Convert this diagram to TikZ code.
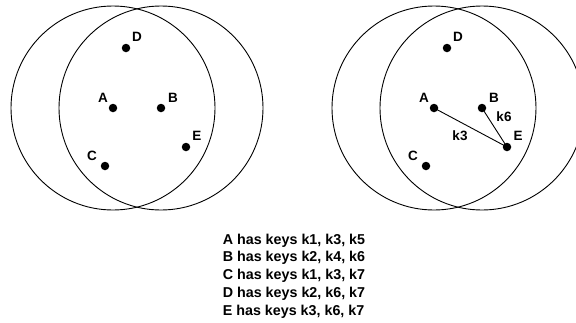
\documentclass[tikz,border=0pt]{standalone}
\usepackage{fontspec}
\setmainfont{Liberation Sans}
\begin{document}
\begin{tikzpicture}[x=1pt,y=-1pt,
  ring/.style={draw=black, line width=0.9pt},
  dot/.style={circle, fill=black, inner sep=0pt, minimum size=8.5pt},
  lbl/.style={font=\fontsize{13.5}{16}\selectfont\bfseries, inner sep=0pt},
  link/.style={draw=black, line width=0.9pt},
  keys/.style={font=\fontsize{14.3}{17.8}\selectfont\bfseries, align=left, inner sep=0pt}]
\useasboundingbox (0,0) rectangle (576,322);
\clip (0,0) rectangle (576,322);
% left panel
\draw[ring] (113,108) circle[radius=102pt];
\draw[ring] (161,108) circle[radius=102pt];
\node[dot] (lA) at (113,108) {};
\node[dot] (lB) at (161,108) {};
\node[dot] (lC) at (105,166) {};
\node[dot] (lD) at (126,48) {};
\node[dot] (lE) at (186,147) {};
\node[lbl] (lAt) at (103,98) {A};
\node[lbl] (lBt) at (173,98) {B};
\node[lbl] (lCt) at (92,156) {C};
\node[lbl] (lDt) at (137,37) {D};
\node[lbl] (lEt) at (197,136) {E};
% right panel
\draw[ring] (434,108) circle[radius=102pt];
\draw[ring] (482,108) circle[radius=102pt];
\node[dot] (rA) at (434,108) {};
\node[dot] (rB) at (482,108) {};
\node[dot] (rC) at (426,166) {};
\node[dot] (rD) at (447,48) {};
\node[dot] (rE) at (507,147) {};
\node[lbl] (rAt) at (424,98) {A};
\node[lbl] (rBt) at (494,98) {B};
\node[lbl] (rCt) at (413,156) {C};
\node[lbl] (rDt) at (458,37) {D};
\node[lbl] (rEt) at (518,136) {E};
\draw[link] (rA.center) -- (rE.center);
\draw[link] (rB.center) -- (rE.center);
\node[lbl] (k3) at (460,136) {k3};
\node[lbl] (k6) at (504,117) {k6};
% key list
\node[keys] (list) at (294,276) {A has keys k1, k3, k5\\B has keys k2, k4, k6\\C has keys k1, k3, k7\\D has keys k2, k6, k7\\E has keys k3, k6, k7};
\end{tikzpicture}
\end{document}
